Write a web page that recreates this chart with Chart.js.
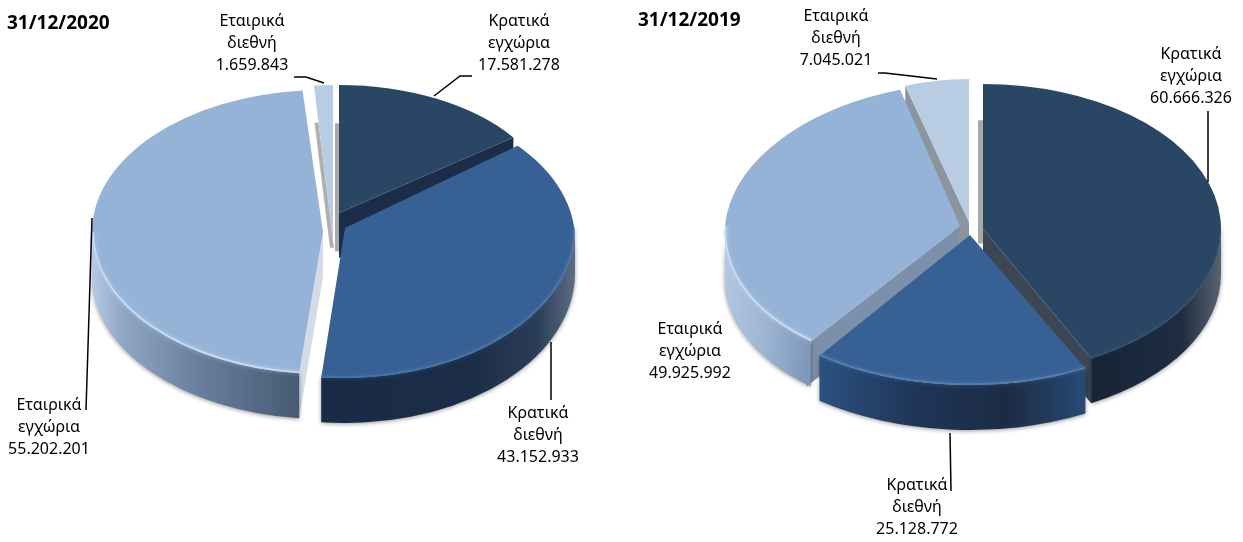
<!DOCTYPE html>
<html>
<head>
<meta charset="utf-8">
<script src="https://cdn.jsdelivr.net/npm/chart.js@4"></script>
<style>
  html, body { margin: 0; padding: 0; background: #fff; overflow: hidden; }
  canvas { position: absolute; top: 0; }
</style>
</head>
<body>
<canvas id="pie2020" width="620" height="542" style="left:0"></canvas>
<canvas id="pie2019" width="623" height="542" style="left:620px"></canvas>
<script>
const categories = ["Κρατικά εγχώρια", "Κρατικά διεθνή", "Εταιρικά εγχώρια", "Εταιρικά διεθνή"];
const values2020 = [17581278, 43152933, 55202201, 1659843];
const values2019 = [60666326, 25128772, 49925992, 7045021];
const faceColors = ["#2a4665", "#376195", "#95b3d7", "#b8cce4"];
const labelFont = '16px "Noto Sans"';
const depth = 45;

// one entry per slice, canvas px. walls = cut faces of the slice
const layout2020 = [
    {cx: 339, cy: 213, rx: 216, ry: 128, walls: [
        {edge: "end", dx: 0, dy: depth, color: "#1c2d4a"},
        {edge: "start", dx: -4, dy: 0, color: "#a8a8a8", from: -0.3, to: 0.7}]},
    {cx: 345, cy: 228, rx: 230, ry: 150, rim: "#4f77aa", clip: [345, 240, 230, 143],
        stops: [[0, "#182a45"], [0.6, "#1c2d47"], [0.85, "#2a3d58"], [1, "#5c6d84"]]},
    {cx: 323, cy: 232, rx: 231, ry: 142, rim: "#dbe9fb",
        stops: [[0, "#b5c9e3"], [0.15, "#8fa6c5"], [0.5, "#6a809f"], [1, "#475a73"]],
        walls: [{edge: "start", dx: 0, dy: depth, color: "#d3dbe6"}]},
    {cx: 333, cy: 240, rx: 215, ry: 155, walls: [
        {edge: "start", dx: -4, dy: 0, color: "#b0b0b0", from: -0.05, to: 0.76}]}
];
const layout2019 = [
    {cx: 983, cy: 229, rx: 238, ry: 145, rim: "#34506f",
        stops: [[0, "#172436"], [0.7, "#1e2d42"], [1, "#5b6470"]],
        walls: [
            {edge: "end", dx: 0, dy: depth, color: "#3d4653"},
            {edge: "start", dx: -5, dy: 0, color: "#a8a8a8", from: -0.1, to: 0.75}]},
    {cx: 970, cy: 235, rx: 254, ry: 150, rim: "#5f86b8",
        stops: [[0, "#2b5180"], [0.35, "#1f3658"], [0.7, "#1b2b44"], [1, "#274a75"]]},
    {cx: 960, cy: 226, rx: 235, ry: 143, rim: "#dbe9fb", shear: -0.087,
        stops: [[0, "#b4c8e2"], [0.5, "#9fb6d4"], [1, "#7d97ba"]],
        walls: [{edge: "start", dx: 0, dy: depth, color: "#7d90a9"}]},
    {cx: 969, cy: 222, rx: 209, ry: 143, walls: [
        {edge: "start", dx: 0, dy: depth, color: "#8c959e"}]}
];

const labelPos2020 = [[519, 21], [538, 413], [49, 405], [252, 21]];
const labelPos2019 = [[1191, 54], [917, 485], [690, 329], [836, 16]];
const leaders2020 = [
    [[434, 96], [460, 76], [472, 76]],
    [[551, 342], [551, 400]],
    [[92, 218], [86, 410]],
    [[324, 83], [306, 77], [294, 77]]
];
const leaders2019 = [
    [[1208, 182], [1208, 111]],
    [[950, 433], [951, 491]],
    [],
    [[937, 79], [885, 73], [878, 73]]
];

function formatValue(v) {
    return String(v).replace(/\B(?=(\d{3})+$)/g, ".");
}

function edgePoint(s, angle, f) {
    return [s.cx + s.rx * Math.cos(angle) * f, s.cy + s.ry * Math.sin(angle) * f];
}

function drawCutWall(ctx, s, el, w) {
    const angle = w.edge === "start" ? el.startAngle : el.endAngle;
    const a = edgePoint(s, angle, w.from === undefined ? 0 : w.from);
    const b = edgePoint(s, angle, w.to === undefined ? 1 : w.to);
    ctx.fillStyle = w.color;
    ctx.beginPath();
    ctx.moveTo(a[0], a[1]);
    ctx.lineTo(b[0], b[1]);
    ctx.lineTo(b[0] + w.dx, b[1] + w.dy);
    ctx.lineTo(a[0] + w.dx, a[1] + w.dy);
    ctx.closePath();
    ctx.fill();
}

// the part of the slice's outer edge that faces the viewer
function visibleRange(el) {
    const tau = Math.PI * 2;
    let a = el.startAngle, b = el.endAngle;
    while (a < 0) { a += tau; b += tau; }
    if (a >= Math.PI) { a -= tau; b -= tau; }
    a = Math.max(a, 0);
    b = Math.min(b, Math.PI);
    return b > a ? [a, b] : null;
}

function drawOuterWall(ctx, s, el) {
    const r = visibleRange(el);
    if (!r) return;
    const xs = [s.cx + s.rx * Math.cos(r[0]), s.cx + s.rx * Math.cos(r[1])];
    const g = ctx.createLinearGradient(Math.min(...xs), 0, Math.max(...xs), 0);
    s.stops.forEach(st => g.addColorStop(st[0], st[1]));
    ctx.save();
    ctx.fillStyle = g;
    ctx.shadowColor = "rgba(0,0,0,0.4)";
    ctx.shadowBlur = 4;
    ctx.shadowOffsetY = 1;
    ctx.beginPath();
    ctx.ellipse(s.cx, s.cy, s.rx, s.ry, 0, r[0], r[1]);
    // keep the wall upright when the slice is sheared
    ctx.ellipse(s.cx - (s.shear || 0) * depth, s.cy + depth, s.rx, s.ry, 0, r[1], r[0], true);
    ctx.closePath();
    ctx.fill();
    ctx.restore();
}

function drawRim(ctx, s, el) {
    const r = visibleRange(el);
    if (!r || !s.rim) return;
    ctx.save();
    ctx.strokeStyle = s.rim;
    ctx.globalAlpha = 0.75;
    ctx.lineWidth = 1.5;
    ctx.shadowColor = s.rim;
    ctx.shadowBlur = 4;
    ctx.beginPath();
    ctx.ellipse(s.cx, s.cy, s.rx - 1, s.ry - 1, 0, r[0], r[1]);
    ctx.stroke();
    ctx.restore();
}

const pie3d = {
    id: "pie3d",
    beforeDatasetDraw(chart) {
        const ctx = chart.ctx;
        const cfg = chart.options.plugins.pie3d;
        const arcs = chart.getDatasetMeta(0).data;
        ctx.save();
        ctx.translate(-cfg.left, 0);
        cfg.order.forEach(i => {
            const el = arcs[i], s = cfg.slices[i];
            const k = s.shear || 0;
            ctx.save();
            ctx.transform(1, 0, k, 1, -k * s.cy, 0);
            (s.walls || []).forEach(w => drawCutWall(ctx, s, el, w));
            drawOuterWall(ctx, s, el);
            ctx.save();
            if (s.clip) {
                ctx.beginPath();
                ctx.ellipse(s.clip[0], s.clip[1], s.clip[2], s.clip[3], 0, 0, Math.PI * 2);
                ctx.clip();
            }
            ctx.translate(s.cx, s.cy);
            ctx.scale(s.rx / el.outerRadius, s.ry / el.outerRadius);
            ctx.translate(-el.x, -el.y);
            el.draw(ctx);
            ctx.restore();
            drawRim(ctx, s, el);
            ctx.restore();
        });
        ctx.restore();
        return false;
    },
    afterDraw(chart) {
        const ctx = chart.ctx;
        const cfg = chart.options.plugins.pie3d;
        const values = chart.data.datasets[0].data;
        ctx.save();
        ctx.translate(-cfg.left, 0);
        ctx.strokeStyle = "#000";
        ctx.lineWidth = 1.5;
        cfg.leaders.forEach(pts => {
            if (!pts.length) return;
            ctx.beginPath();
            pts.forEach((p, k) => k ? ctx.lineTo(p[0], p[1]) : ctx.moveTo(p[0], p[1]));
            ctx.stroke();
        });
        ctx.fillStyle = "#000";
        ctx.font = labelFont;
        ctx.textAlign = "center";
        ctx.textBaseline = "middle";
        chart.data.labels.forEach((name, i) => {
            const lines = name.split(" ").concat(formatValue(values[i]));
            const p = cfg.labels[i];
            lines.forEach((t, k) => ctx.fillText(t, p[0], p[1] + k * 22.3));
        });
        ctx.restore();
    }
};

function makePie(id, title, values, left, slices, order, labels, leaders, titlePad) {
    new Chart(document.getElementById(id), {
        type: "pie",
        data: {
            labels: categories,
            datasets: [{data: values, backgroundColor: faceColors, borderWidth: 0}]
        },
        plugins: [pie3d],
        options: {
            responsive: false,
            animation: false,
            layout: {padding: {left: titlePad[0]}},
            plugins: {
                legend: {display: false},
                tooltip: {enabled: false},
                title: {
                    display: true,
                    text: title,
                    align: "start",
                    color: "#000",
                    font: {family: '"Noto Sans"', size: 19, weight: "bold"},
                    padding: {top: titlePad[1], bottom: 0}
                },
                pie3d: {left, slices, order, labels, leaders}
            }
        }
    });
}

makePie("pie2020", "31/12/2020", values2020, 0, layout2020, [3, 0, 2, 1], labelPos2020, leaders2020, [7, 12]);
makePie("pie2019", "31/12/2019", values2019, 620, layout2019, [3, 2, 0, 1], labelPos2019, leaders2019, [18, 9]);
</script>
</body>
</html>
